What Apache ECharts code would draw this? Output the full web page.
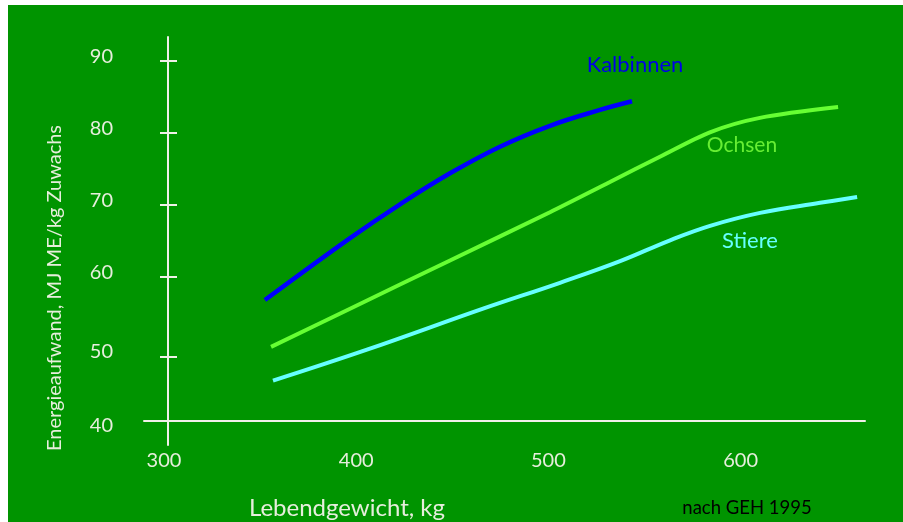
<!DOCTYPE html>
<html>
<head>
<meta charset="utf-8">
<script src="https://cdn.jsdelivr.net/npm/echarts@6/dist/echarts.min.js"></script>
<style>html,body{margin:0;padding:0;background:#fff;}#c{width:903px;height:522px;}</style>
</head>
<body>
<div id="c"></div>
<script>
// ---- data ----
var seriesNames = ['Kalbinnen', 'Ochsen', 'Stiere'];
var kalbinnenX = [352.5, 396.8, 422.8, 448.8, 474.8, 500.8, 526.8, 543.5];
var kalbinnenY = [56.8, 65.4, 70.1, 74.4, 78.1, 81.0, 83.2, 84.4];
var ochsenX = [355.7, 396.8, 448.8, 500.8, 532, 558, 584, 610, 650.7];
var ochsenY = [50.3, 55.6, 62.3, 69.0, 73.2, 76.7, 80.1, 82.1, 83.6];
var stiereX = [356.7, 405.6, 466.0, 506.0, 537.3, 563.3, 584.1, 610.1, 641.3, 660.6];
var stiereY = [45.6, 49.9, 55.6, 59.2, 62.2, 65.1, 67.1, 68.9, 70.3, 71.1];
var xTickLabels = [300, 400, 500, 600];
var yTickLabels = [40, 50, 60, 70, 80, 90];
var yTickMarks = [40, 48.9, 60, 70, 80, 90];
var xAxisTitle = 'Lebendgewicht, kg';
var yAxisTitle = 'Energieaufwand, MJ ME/kg Zuwachs';
var sourceNote = 'nach GEH 1995';

function pairs(xs, ys) { return xs.map(function (x, i) { return [x, ys[i]]; }); }

var FONT = 'Lato, "Open Sans", sans-serif';
var TXT = '#e6eedc';
var AX = '#f0f0e8';
var colors = ['#0000ff', '#66ff33', '#66ffff'];
var labelColors = ['#0000e6', '#66ee33', '#66ffff'];

var chart = echarts.init(document.getElementById('c'), null, { renderer: 'canvas' });
var yAxisBase = {
  type: 'value', position: 'left', min: 36.67, max: 93.33, offset: -24,
  splitLine: { show: false }
};
chart.setOption({
  backgroundColor: '#ffffff',
  animation: false,
  grid: { left: 144, right: 38, top: 37, bottom: 77 },
  xAxis: {
    type: 'value', min: 289.6, max: 664.7, offset: -24,
    axisLine: { show: true, lineStyle: { color: AX, width: 2 } },
    axisTick: { show: false },
    splitLine: { show: false },
    axisLabel: { customValues: xTickLabels, color: TXT, fontFamily: FONT, fontSize: 20, margin: 30 }
  },
  yAxis: [
    Object.assign({}, yAxisBase, {
      axisLine: { show: true, lineStyle: { color: AX, width: 2 } },
      axisTick: { show: true, inside: true, length: 9, customValues: yTickMarks, lineStyle: { color: AX, width: 2 } },
      axisLabel: {
        customValues: yTickLabels, color: TXT, fontFamily: FONT, fontSize: 20, margin: 55,
        formatter: function (v) { return v === 40 ? '{lo|' + v + '}' : (v === 50 ? '{mid|' + v + '}' : '{hi|' + v + '}'); },
        rich: {
          lo: { color: TXT, fontFamily: FONT, fontSize: 20, padding: [10, 0, 0, 0] },
          mid: { color: TXT, fontFamily: FONT, fontSize: 20, padding: [6, 0, 0, 0] },
          hi: { color: TXT, fontFamily: FONT, fontSize: 20, padding: [0, 0, 8, 0] }
        }
      }
    }),
    Object.assign({}, yAxisBase, {
      axisLine: { show: false },
      axisTick: { show: true, inside: false, length: 8, customValues: yTickMarks, lineStyle: { color: AX, width: 2 } },
      axisLabel: { show: false }
    })
  ],
  graphic: [
    { type: 'rect', z: -10, shape: { x: 8, y: 5, width: 895, height: 517 }, style: { fill: '#009400' }, silent: true },
    { type: 'text', x: 347, y: 508, z: 10, style: { text: xAxisTitle, fill: TXT, font: '24px ' + FONT, align: 'center', verticalAlign: 'middle' } },
    { type: 'text', x: 55, y: 288, rotation: Math.PI / 2, z: 10, style: { text: yAxisTitle, fill: TXT, font: '20px ' + FONT, align: 'center', verticalAlign: 'middle' } },
    { type: 'text', x: 747, y: 508, z: 10, style: { text: sourceNote, fill: '#000000', font: '18.5px ' + FONT, align: 'center', verticalAlign: 'middle' } },
    { type: 'text', x: 635, y: 65, z: 10, style: { text: seriesNames[0], fill: labelColors[0], font: '22px ' + FONT, align: 'center', verticalAlign: 'middle' } },
    { type: 'text', x: 742, y: 145, z: 10, style: { text: seriesNames[1], fill: labelColors[1], font: '21px ' + FONT, align: 'center', verticalAlign: 'middle' } },
    { type: 'text', x: 750, y: 241, z: 10, style: { text: seriesNames[2], fill: labelColors[2], font: '22px ' + FONT, align: 'center', verticalAlign: 'middle' } }
  ],
  series: [
    { name: seriesNames[0], type: 'line', yAxisIndex: 0, data: pairs(kalbinnenX, kalbinnenY), smooth: 0.4, showSymbol: false, lineStyle: { color: colors[0], width: 4.5 } },
    { name: seriesNames[1], type: 'line', yAxisIndex: 0, data: pairs(ochsenX, ochsenY), smooth: 0.3, showSymbol: false, lineStyle: { color: colors[1], width: 4 } },
    { name: seriesNames[2], type: 'line', yAxisIndex: 0, data: pairs(stiereX, stiereY), smooth: 0.4, showSymbol: false, lineStyle: { color: colors[2], width: 4 } }
  ]
});
</script>
</body>
</html>
